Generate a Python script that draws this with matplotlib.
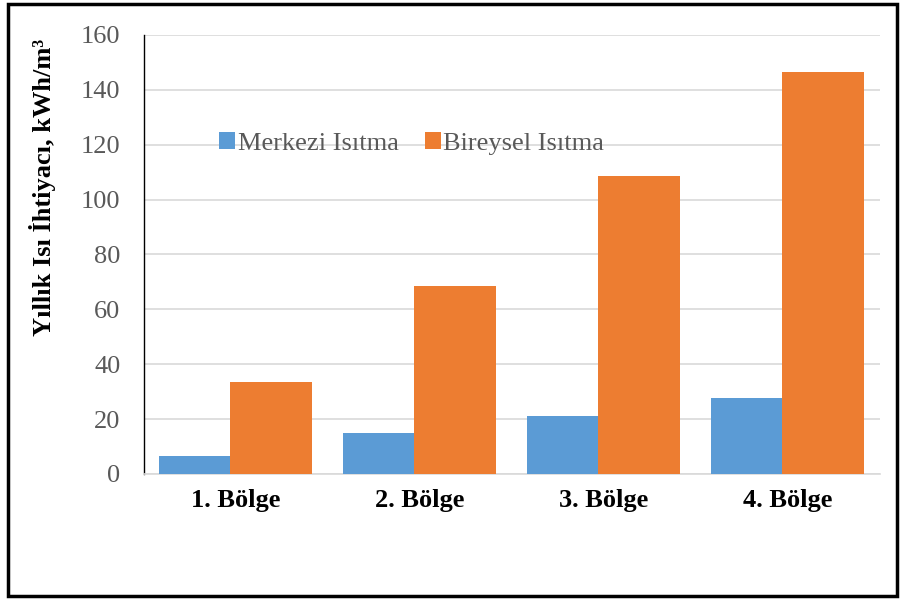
import matplotlib
matplotlib.use('Agg')
import matplotlib.pyplot as plt
from matplotlib.patches import Rectangle
import numpy as np

regions = ['1. Bölge', '2. Bölge', '3. Bölge', '4. Bölge']
merkezi = [6.6, 14.9, 21.1, 27.7]
bireysel = [33.5, 68.5, 108.6, 146.4]
yticks = [0, 20, 40, 60, 80, 100, 120, 140, 160]

plt.rcParams['font.family'] = ['Liberation Serif', 'DejaVu Serif']

fig = plt.figure(figsize=(9.01, 5.99), dpi=100)
ax = fig.add_axes([0.16, 0.2087, 0.8167, 0.7329])

x = np.arange(len(regions))
ax.bar(x - 0.418, merkezi, width=0.386, align='edge', color='#5b9bd5',
       label='Merkezi Isıtma', zorder=3)
ax.bar(x - 0.032, bireysel, width=0.446, align='edge', color='#ed7d31',
       label='Bireysel Isıtma', zorder=3)

ax.set_xlim(-0.5, 3.5)
ax.set_ylim(0, 160)
ax.set_yticks(yticks)
ax.set_xticks(x)
ax.set_xticklabels(regions, fontsize=19, fontweight='bold', color='black')
ax.tick_params(axis='y', length=0, pad=17, labelsize=19, labelcolor='#595959')
ax.tick_params(axis='x', length=0, pad=11)
ax.yaxis.grid(True, color='#d9d9d9', linewidth=1.2, zorder=0)
ax.set_axisbelow(True)

for s in ['top', 'right']:
    ax.spines[s].set_visible(False)
ax.spines['left'].set_color('black')
ax.spines['left'].set_linewidth(1.0)
ax.spines['bottom'].set_color('#d9d9d9')
ax.spines['bottom'].set_linewidth(1.2)

ax.set_ylabel('Yıllık Isı İhtiyacı, kWh/m³', fontsize=19, fontweight='bold',
              color='black')
ax.yaxis.set_label_coords(-0.12, 0.654)

ax.legend(loc='center', bbox_to_anchor=(0.457, 0.761), bbox_transform=fig.transFigure,
          ncol=2, frameon=False, fontsize=19, handlelength=0.6, handleheight=0.6,
          handletextpad=0.1, columnspacing=1.0, labelcolor='#595959')

fig.patches.append(Rectangle((8 / 901, 3 / 599), 889 / 901, 592 / 599,
                             transform=fig.transFigure, fill=False,
                             edgecolor='black', linewidth=2.5))

fig.savefig('out.png', dpi=100)
